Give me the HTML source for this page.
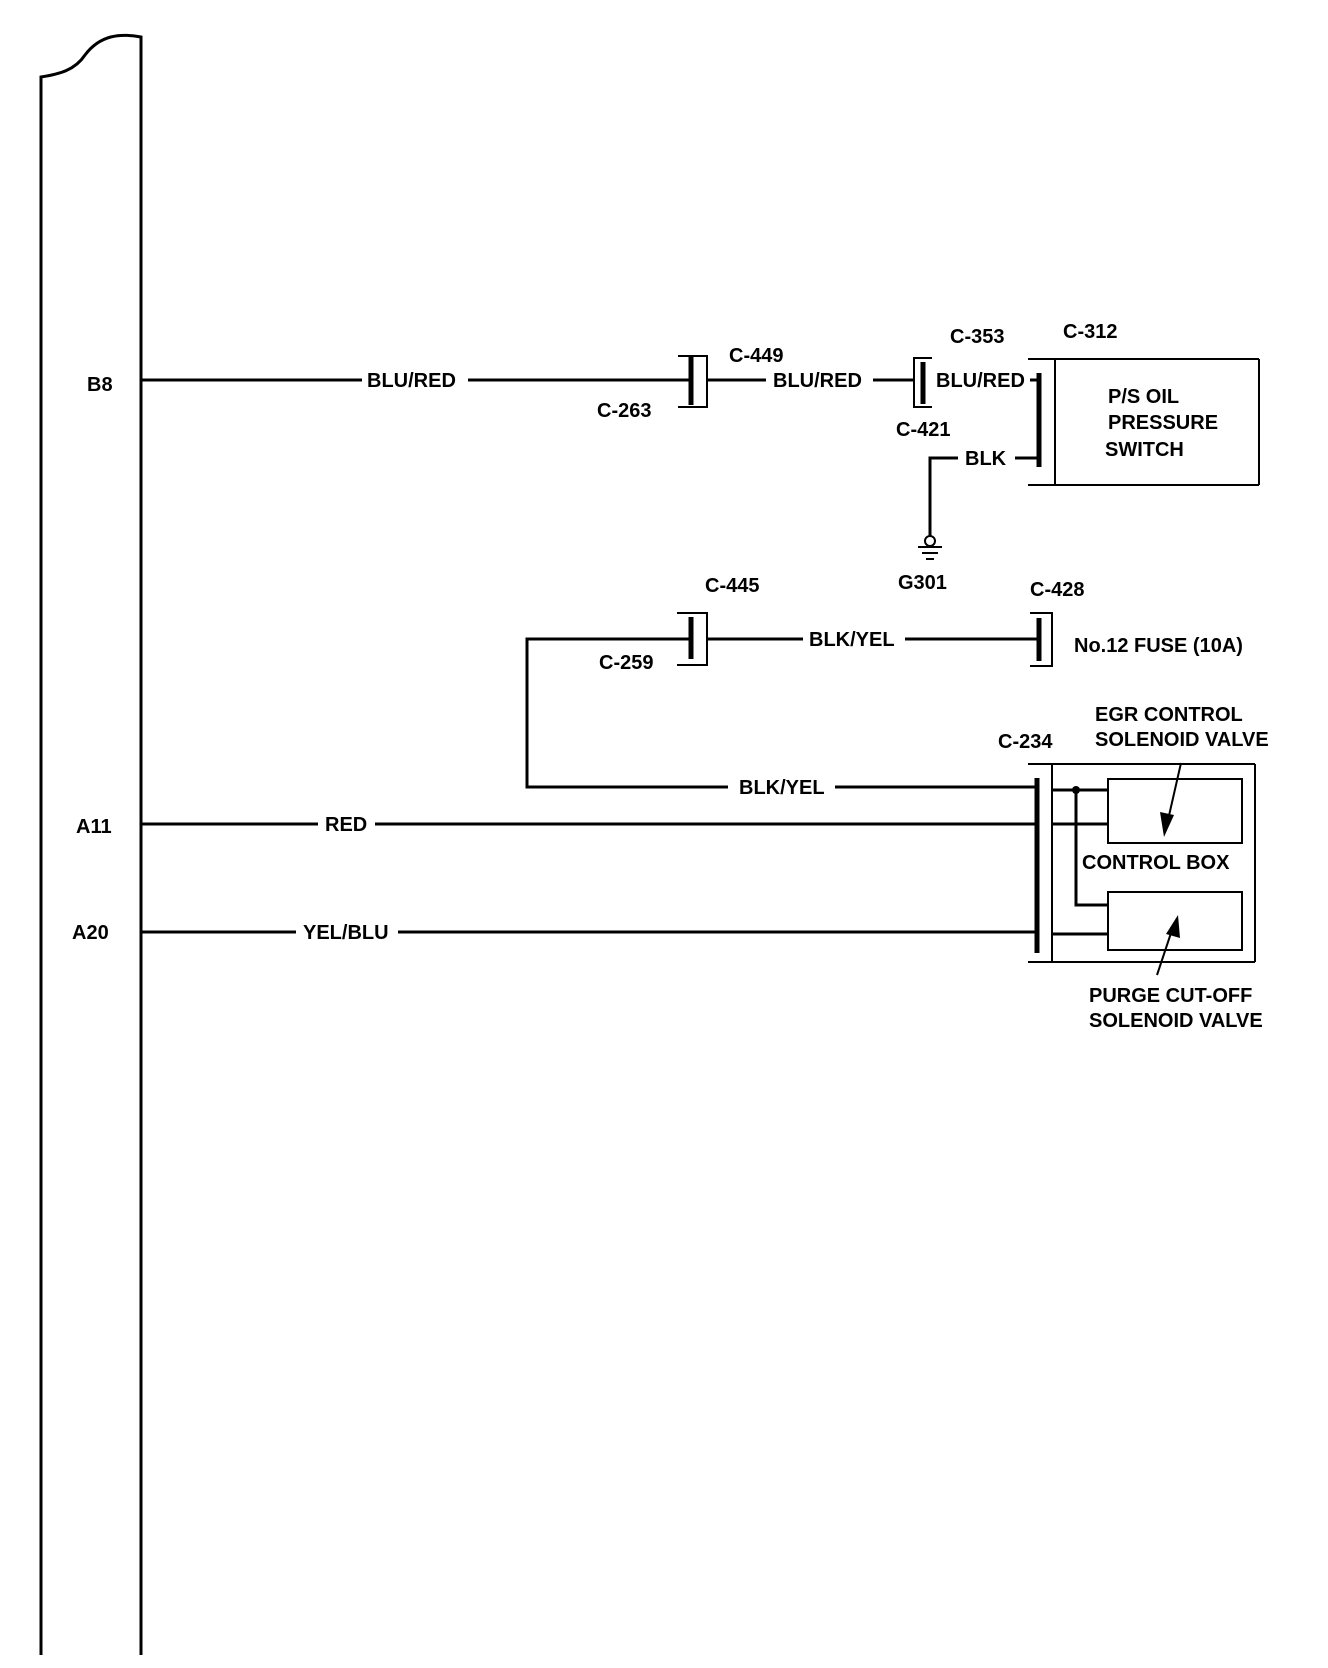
<!DOCTYPE html>
<html><head><meta charset="utf-8"><style>
html,body{margin:0;padding:0;background:#fff}
svg{display:block}
text{font-family:"Liberation Sans",sans-serif;font-weight:bold;font-size:20px;fill:#000}
</style></head><body>
<svg width="1328" height="1668" viewBox="0 0 1328 1668" xmlns="http://www.w3.org/2000/svg">
<g fill="none" stroke="#000" stroke-width="3">
<!-- body -->
<path d="M41,1655 L41,77 C60,74 75,70 85,55 C100,35 120,33 141,37 L141,1655" stroke-width="3"/>
<!-- B8 wire -->
<line x1="141" y1="380" x2="362" y2="380"/>
<line x1="468" y1="380" x2="691" y2="380"/>
<line x1="707" y1="380" x2="766" y2="380"/>
<line x1="873" y1="380" x2="914" y2="380"/>
<line x1="1030" y1="380" x2="1039" y2="380"/>
</g>
<g fill="none" stroke="#000" stroke-width="2">
<!-- C-263 bracket -->
<polyline points="678,356 707,356 707,407 678,407"/>
<!-- C-421 bracket -->
<polyline points="932,358 914,358 914,407 932,407"/>
<!-- C-312 box -->
<line x1="1028" y1="359" x2="1259" y2="359"/>
<line x1="1028" y1="485" x2="1259" y2="485"/>
<line x1="1055" y1="359" x2="1055" y2="485"/>
<line x1="1259" y1="359" x2="1259" y2="485"/>
<!-- C-259 bracket -->
<polyline points="677,613 707,613 707,665 677,665"/>
<!-- C-428 bracket -->
<polyline points="1030,613 1052,613 1052,666 1030,666"/>
<!-- control box -->
<line x1="1028" y1="764" x2="1255" y2="764"/>
<line x1="1028" y1="962" x2="1255" y2="962"/>
<line x1="1052" y1="764" x2="1052" y2="962"/>
<line x1="1255" y1="764" x2="1255" y2="962"/>
<rect x="1108" y="779" width="134" height="64"/>
<rect x="1108" y="892" width="134" height="58"/>
<!-- ground -->
<circle cx="930" cy="541" r="5"/>
<line x1="918" y1="547" x2="942" y2="547"/>
<line x1="922" y1="553" x2="938" y2="553"/>
<line x1="926" y1="559" x2="934" y2="559"/>
<!-- arrows -->
<line x1="1181" y1="763" x2="1168" y2="820"/>
<line x1="1157" y1="975" x2="1172" y2="930"/>
</g>
<g fill="#000">
<polygon points="1164,837 1160,812 1174,815"/>
<polygon points="1178,915 1180,938 1166,934"/>
<circle cx="1076" cy="790" r="4"/>
</g>
<g fill="none" stroke="#000" stroke-width="5">
<line x1="691" y1="357" x2="691" y2="405"/>
<line x1="923" y1="362" x2="923" y2="404"/>
<line x1="1039" y1="373" x2="1039" y2="467"/>
<line x1="691" y1="617" x2="691" y2="659"/>
<line x1="1039" y1="618" x2="1039" y2="661"/>
<line x1="1037" y1="778" x2="1037" y2="953"/>
</g>
<g fill="none" stroke="#000" stroke-width="3">
<!-- BLK -->
<line x1="1015" y1="458" x2="1039" y2="458"/>
<polyline points="958,458 930,458 930,536"/>
<!-- BLK/YEL upper -->
<polyline points="728,787 527,787 527,639 691,639"/>
<line x1="707" y1="639" x2="803" y2="639"/>
<line x1="905" y1="639" x2="1039" y2="639"/>
<line x1="835" y1="787" x2="1037" y2="787"/>
<!-- RED / YEL -->
<line x1="141" y1="824" x2="318" y2="824"/>
<line x1="375" y1="824" x2="1037" y2="824"/>
<line x1="141" y1="932" x2="296" y2="932"/>
<line x1="398" y1="932" x2="1037" y2="932"/>
<!-- inside control box -->
<line x1="1052" y1="790" x2="1108" y2="790"/>
<line x1="1052" y1="824" x2="1108" y2="824"/>
<line x1="1052" y1="934" x2="1108" y2="934"/>
<polyline points="1076,790 1076,905 1108,905"/>
</g>
<text x="87" y="391">B8</text>
<text x="76" y="833">A11</text>
<text x="72" y="939">A20</text>
<text x="367" y="387">BLU/RED</text>
<text x="597" y="417">C-263</text>
<text x="729" y="362">C-449</text>
<text x="773" y="387">BLU/RED</text>
<text x="936" y="387">BLU/RED</text>
<text x="950" y="343">C-353</text>
<text x="1063" y="338">C-312</text>
<text x="896" y="436">C-421</text>
<text x="965" y="465">BLK</text>
<text x="1108" y="403">P/S OIL</text>
<text x="1108" y="429">PRESSURE</text>
<text x="1105" y="456">SWITCH</text>
<text x="898" y="589">G301</text>
<text x="705" y="592">C-445</text>
<text x="599" y="669">C-259</text>
<text x="809" y="646">BLK/YEL</text>
<text x="1030" y="596">C-428</text>
<text x="1074" y="652">No.12 FUSE (10A)</text>
<text x="739" y="794">BLK/YEL</text>
<text x="998" y="748">C-234</text>
<text x="1095" y="721">EGR CONTROL</text>
<text x="1095" y="746">SOLENOID VALVE</text>
<text x="325" y="831">RED</text>
<text x="303" y="939">YEL/BLU</text>
<text x="1082" y="869">CONTROL BOX</text>
<text x="1089" y="1002">PURGE CUT-OFF</text>
<text x="1089" y="1027">SOLENOID VALVE</text>
</svg>
</body></html>
